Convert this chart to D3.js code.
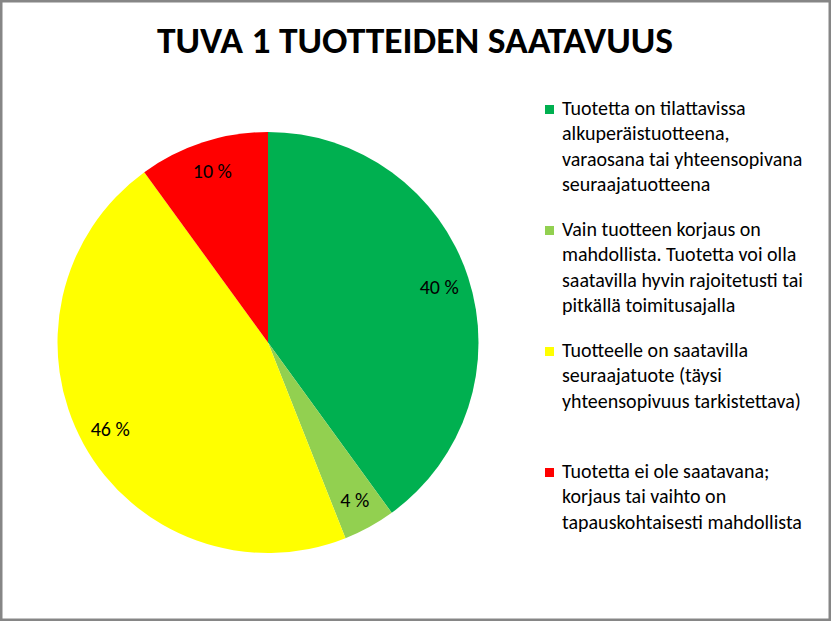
<!DOCTYPE html>
<html>
<head>
<meta charset="utf-8">
<script src="https://cdn.jsdelivr.net/npm/d3@7"></script>
<style>
  html, body { margin: 0; padding: 0; background: #fff; }
  svg { display: block; }
</style>
</head>
<body>
<div id="chart"></div>
<script>
// slices, clockwise from 12 o'clock
const categories = [
  "Tuotetta on tilattavissa alkuperäistuotteena, varaosana tai yhteensopivana seuraajatuotteena",
  "Vain tuotteen korjaus on mahdollista. Tuotetta voi olla saatavilla hyvin rajoitetusti tai pitkällä toimitusajalla",
  "Tuotteelle on saatavilla seuraajatuote (täysi yhteensopivuus tarkistettava)",
  "Tuotetta ei ole saatavana; korjaus tai vaihto on tapauskohtaisesti mahdollista"
];
const values = [40, 4, 46, 10];
const colors = ["#00B050", "#92D050", "#FFFF00", "#FF0000"];
// legend lines as wrapped in the original
const legendLines = [
  ["Tuotetta on tilattavissa", "alkuperäistuotteena,", "varaosana tai yhteensopivana", "seuraajatuotteena"],
  ["Vain tuotteen korjaus on", "mahdollista. Tuotetta voi olla", "saatavilla hyvin rajoitetusti tai", "pitkällä toimitusajalla"],
  ["Tuotteelle on saatavilla", "seuraajatuote (täysi", "yhteensopivuus tarkistettava)"],
  ["Tuotetta ei ole saatavana;", "korjaus tai vaihto on", "tapauskohtaisesti mahdollista"]
];
const title = "TUVA 1 TUOTTEIDEN SAATAVUUS";

const w = 831, h = 621;
const font = "Carlito, 'Liberation Sans Narrow', 'Open Sans', sans-serif";

const svg = d3.select("#chart").append("svg")
  .attr("width", w).attr("height", h);

// chart border
svg.append("rect")
  .attr("x", 1.25).attr("y", 1.25)
  .attr("width", w - 2.5).attr("height", h - 2.5)
  .attr("fill", "#fff")
  .attr("stroke", "#868686").attr("stroke-width", 2.5);

svg.append("text")
  .text(title)
  .attr("x", 415).attr("y", 53)
  .attr("text-anchor", "middle")
  .attr("font-family", font)
  .attr("font-weight", "bold")
  .attr("font-size", 37)
  .attr("textLength", 516)
  .attr("lengthAdjust", "spacingAndGlyphs");

const cx = 268, cy = 342.5, r = 210.5;
const pie = d3.pie().sort(null).value(d => d);
const arcs = pie(values);
const arc = d3.arc().innerRadius(0).outerRadius(r);
const labelArc = d3.arc().innerRadius(180).outerRadius(180);

const g = svg.append("g").attr("transform", `translate(${cx},${cy})`);
g.selectAll("path").data(arcs).enter().append("path")
  .attr("d", arc)
  .attr("fill", (d, i) => colors[i]);

g.selectAll("text.lbl").data(arcs).enter().append("text")
  .attr("class", "lbl")
  .attr("transform", d => `translate(${labelArc.centroid(d)})`)
  .attr("text-anchor", "middle")
  .attr("dy", "0.35em")
  .attr("font-family", font)
  .attr("font-size", 20)
  .attr("fill", "#000")
  .text(d => d.data + " %");

// legend
const legend = svg.append("g").attr("transform", "translate(545,0)");
const item = legend.selectAll("g").data(legendLines).enter().append("g")
  .attr("transform", (d, i) => `translate(0,${105 + i * 121})`);
item.append("rect")
  .attr("width", 9).attr("height", 9)
  .attr("fill", (d, i) => colors[i]);
item.append("text")
  .attr("font-family", font)
  .attr("font-size", 20)
  .attr("fill", "#000")
  .selectAll("tspan").data(d => d).enter().append("tspan")
  .attr("x", 17)
  .attr("y", (d, j) => 10 + j * 25.3)
  .text(d => d);
</script>
</body>
</html>
